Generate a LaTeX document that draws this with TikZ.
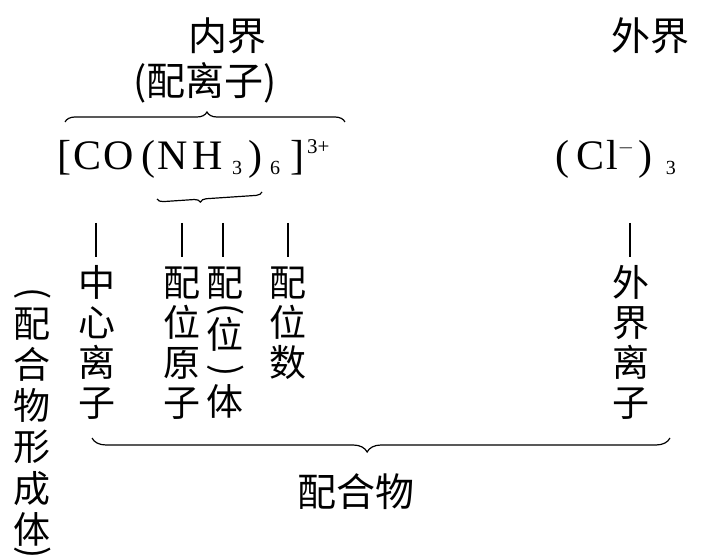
\documentclass[tikz,border=0pt]{standalone}
\usepackage{fontspec}
\newfontfamily\cjk{Noto Sans CJK SC}
\newfontfamily\chem{Liberation Serif}
\usetikzlibrary{decorations.pathreplacing}
\newcommand\chsub[1]{\raisebox{-5pt}{\fontsize{20}{20}\selectfont #1}}
\newcommand\chsup[1]{\raisebox{16pt}{\fontsize{21}{21}\selectfont #1}}
\begin{document}
\begin{tikzpicture}[x=1pt,y=-1pt,
  cj/.style={font=\cjk\fontsize{37}{37}\selectfont, inner sep=0pt, text height=32.6pt, text depth=4.4pt},
  cjt/.style={font=\cjk\fontsize{39}{39}\selectfont, inner sep=0pt, text height=34.3pt, text depth=4.7pt},
  pp/.style={font=\cjk\fontsize{36}{36}\selectfont, inner sep=0pt, rotate=-90, text height=28pt, text depth=6.5pt},
  chemtxt/.style={font=\chem\fontsize{42}{42}\selectfont, inner sep=0pt},
  tick/.style={line width=1.4pt, shorten >=6pt},
  bracebig/.style={decorate, line width=1.2pt, decoration={brace, amplitude=#1}}]
\useasboundingbox (0,0) rectangle (705,556);
% top labels
\node[cjt] (nei) at (227,36) {内界};
\node[cjt] (pei) at (205,81) {(配离子)};
\node[cjt] (wai) at (650,36) {外界};
% formulas
\node[chemtxt, anchor=base west] (f) at (57,170)
  {[\hspace{2pt}C\hspace{2pt}O\hspace{8pt}(\hspace{2pt}N\hspace{5pt}H\hspace{9pt}\chsub{3}\hspace{6pt})\hspace{8pt}\chsub{6}\hspace{10pt}]\hspace{3pt}\chsup{3+}};
\node[chemtxt, anchor=base west] (cl) at (555,170)
  {(\hspace{7pt}C\hspace{2pt}l\chsup{$-$}\hspace{4pt})\hspace{14pt}\chsub{3}};
% braces
\draw[bracebig=10pt, decoration={aspect=0.507}] (65,122) -- (345,122);
\draw[bracebig=6pt, decoration={aspect=0.59}] (262,192) -- (157,199);
\draw[bracebig=14pt, decoration={aspect=0.524}] (670,438) -- (92,438);
% columns
\foreach \ch [count=\i] in {中,心,离,子} \node[cj] (a\i) at (97,242+40*\i) {\ch};
\foreach \ch [count=\i] in {配,位,原,子} \node[cj] (b\i) at (182,242+40*\i) {\ch};
\node[cj] (c1) at (225,282) {配};
\node[pp] (c2) at (225,310) {(};
\node[cj] (c3) at (225,334) {位};
\node[pp] (c4) at (225,371) {)};
\node[cj] (c5) at (225,401) {体};
\foreach \ch [count=\i] in {配,位,数} \node[cj] (d\i) at (288,242+40*\i) {\ch};
\foreach \ch [count=\i] in {外,界,离,子} \node[cj] (e\i) at (631,242+40*\i) {\ch};
\node[pp] (s0) at (32,294) {(};
\foreach \ch [count=\i] in {配,合,物,形,成,体} \node[cj] (s\i) at (32,282+41.2*\i) {\ch};
\node[pp] (s7) at (32,553) {)};
\node[cjt] (all) at (356,492) {配合物};
% ticks
\coordinate (t1) at (96,223);
\coordinate (t2) at (182,223);
\coordinate (t3) at (223,223);
\coordinate (t4) at (288,223);
\coordinate (t5) at (630,223);
\draw[tick] (t1) -- (t1 |- a1.north);
\draw[tick] (t2) -- (t2 |- b1.north);
\draw[tick] (t3) -- (t3 |- c1.north);
\draw[tick] (t4) -- (t4 |- d1.north);
\draw[tick] (t5) -- (t5 |- e1.north);
\end{tikzpicture}
\end{document}
